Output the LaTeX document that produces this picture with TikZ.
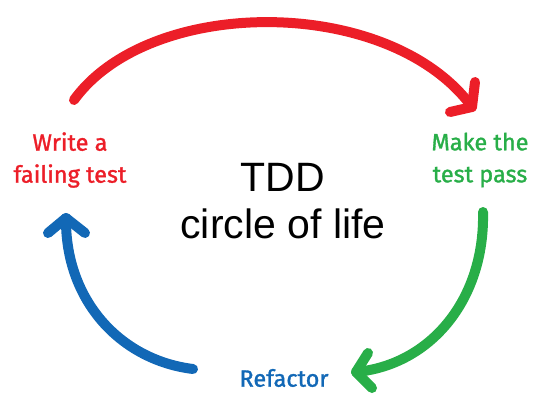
\documentclass[tikz,border=0pt]{standalone}
\usepackage{fontspec}
\setmainfont{Liberation Sans}
\newfontfamily\handfont[FakeBold=1.3]{Fira Sans}
\definecolor{tddred}{RGB}{236,30,40}
\definecolor{tddgreen}{RGB}{40,174,72}
\definecolor{tddblue}{RGB}{18,104,182}
\begin{document}
\begin{tikzpicture}[x=1pt,y=-1pt,
  arc/.style={line width=10pt, line cap=round, line join=round},
  lbl/.style={font=\handfont\fontsize{23.5}{32}\selectfont, align=center, inner sep=0pt}]
\useasboundingbox (0,0) rectangle (545,404);
% labels
\node[lbl, text=tddred] (write) at (70,160) {Write a\\failing test};
\node[lbl, text=tddgreen] (make) at (480,160) {Make the\\test pass};
\node[lbl, text=tddblue] (refactor) at (284,378) {Refactor};
\node[font=\fontsize{41}{47}\selectfont, align=center, inner sep=0pt] (title) at (283,201) {TDD\\circle of life};
% arrow anchors
\coordinate (rs) at (74,100);
\coordinate (rt) at (472,107);
\coordinate (gs) at (483,212);
\coordinate (gt) at (356,372);
\coordinate (bs) at (193,369);
\coordinate (bt) at (66,218);
% red
\draw[arc, tddred] (rs) .. controls (150,-5) and (390,-5) .. (rt);
\draw[arc, tddred] (475,82) -- (rt) -- (450,112);
% green
\draw[arc, tddgreen] (gs) .. controls (485,300) and (430,365) .. (gt);
\draw[arc, tddgreen] (368,353) -- (gt) -- (372,388);
% blue
\draw[arc, tddblue] (bs) .. controls (120,360) and (65,300) .. (bt);
\draw[arc, tddblue] (48,233) -- (bt) -- (85,233);
\end{tikzpicture}
\end{document}
